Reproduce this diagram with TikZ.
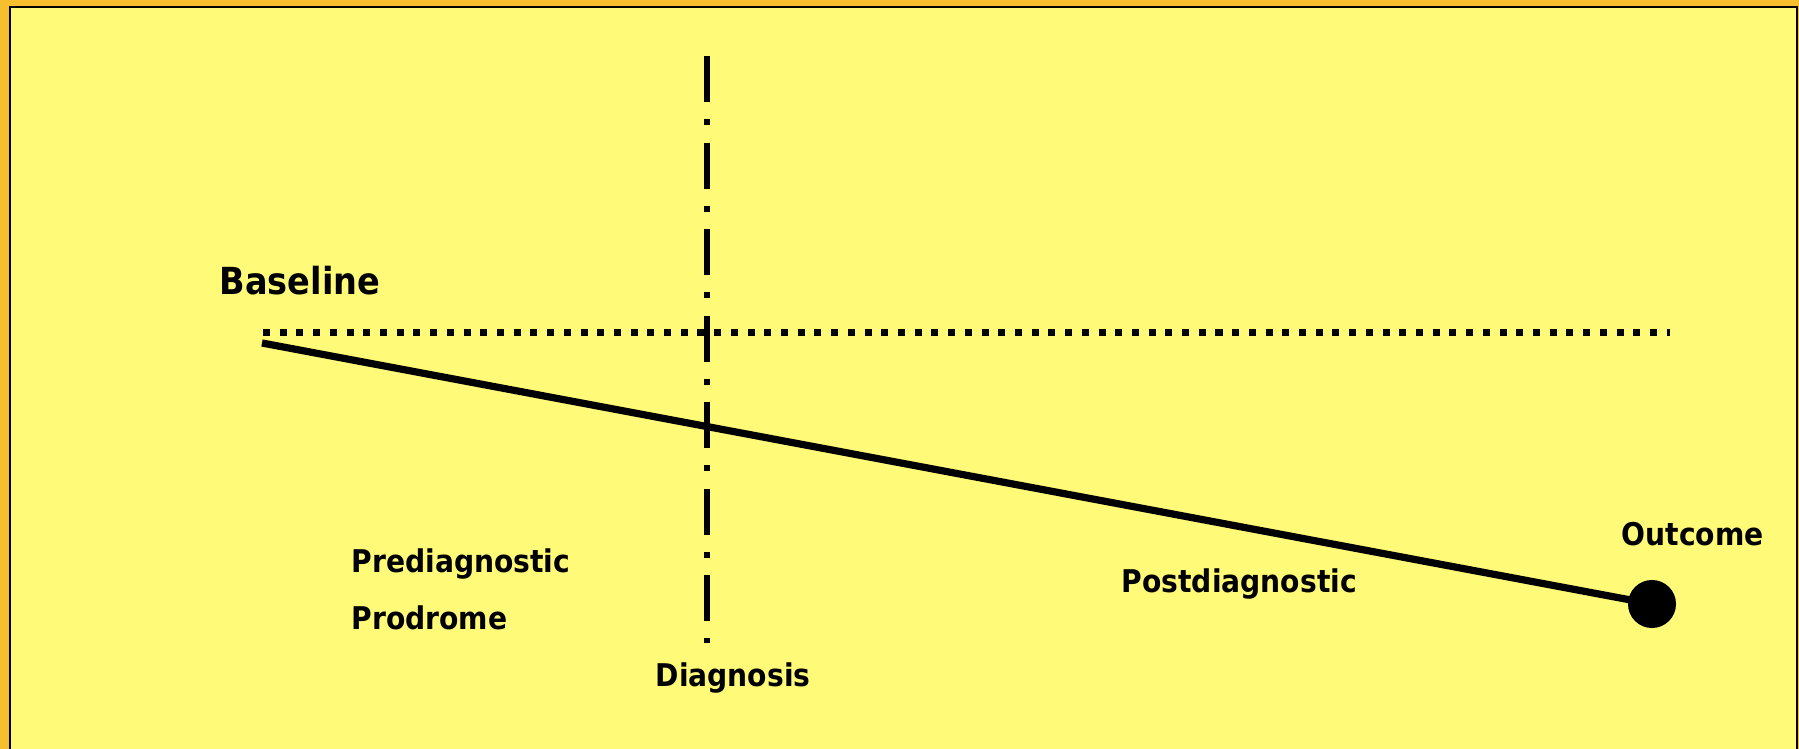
\documentclass[tikz,border=0pt]{standalone}
\usepackage{fontspec}
\setmainfont{DejaVu Sans Condensed}
\usetikzlibrary{positioning}
\definecolor{framecol}{RGB}{247,190,46}
\definecolor{paper}{RGB}{255,250,120}
\tikzset{lab/.style={font=\bfseries\fontsize{8.9}{11}\selectfont, inner sep=0pt, anchor=base west},
         biglab/.style={lab, font=\bfseries\fontsize{10.6}{13}\selectfont},
         trend/.style={line width=0.072cm},
         base/.style={line width=0.07cm, dash pattern=on 0.07cm off 0.097cm},
         diag/.style={line width=0.06cm, dash pattern=on 0.46cm off 0.17cm on 0.06cm off 0.175cm},
         dot/.style={circle, fill=black, inner sep=0pt, minimum size=0.48cm}
}

\begin{document}
\begin{tikzpicture}[x=0.01cm,y=-0.01cm]
      \useasboundingbox (0,0) rectangle (1799,749);
      \fill[framecol] (0,0) rectangle (1799,749);
      \fill[paper] (10,7.5) rectangle (1797,749);
      \draw[line width=0.02cm] (10,749) -- (10,7.5) -- (1797,7.5) -- (1797,749);
      % lines
      \coordinate (bl0) at (263,333);
      \coordinate (bl1) at (1670,333);
      \coordinate (dtop) at (707,56);
      \coordinate (dbot) at (707,643);
      \coordinate (start) at (262,343);
      \node[dot] (end) at (1652,604) {};
      \draw[base] (bl0) -- (bl1);
      \draw[diag] (dtop) -- (dbot);
      \draw[trend] (start) -- (end.center);
      % labels
      \node[biglab] (baseline) at (219,295) {Baseline};
      \node[lab] (pre) at (351,573) {Prediagnostic};
      \node[lab] (prod) at (351,630) {Prodrome};
      \node[lab] (diagn) at (655,687) {Diagnosis};
      \node[lab] (post) at (1121,593) {Postdiagnostic};
      \node[lab] (outc) at (1621,546) {Outcome};
\end{tikzpicture}
\end{document}
